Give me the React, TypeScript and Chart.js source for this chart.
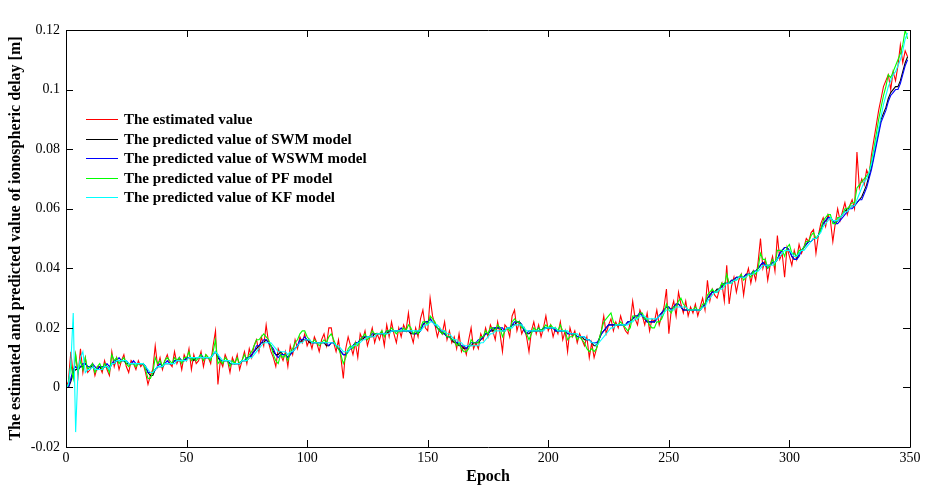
import React, { useEffect, useRef } from "react";
import { Chart, registerables } from "chart.js";

Chart.register(...registerables);

// Epoch index (x values)
const epochs: number[] = Array.from({ length: 350 }, (_, i) => i);

// The estimated value [m]
const estimated: number[] = [
  0, .002, .012, .004, .011, .004, .013, .005, .010, .005,
  .006, .008, .004, .007, .007, .005, .009, .006, .004, .012,
  .007, .010, .006, .009, .011, .007, .005, .009, .008, .006,
  .009, .007, .008, .005, .001, .004, .006, .014, .007, .010,
  .006, .009, .011, .008, .007, .012, .008, .010, .006, .011,
  .009, .013, .006, .011, .008, .009, .012, .007, .011, .010,
  .008, .014, .019, .001, .009, .007, .011, .009, .005, .010,
  .008, .011, .006, .009, .012, .008, .013, .010, .014, .016,
  .012, .017, .014, .021, .015, .012, .010, .007, .013, .011,
  .009, .012, .007, .014, .011, .016, .013, .017, .015, .018,
  .014, .016, .013, .017, .015, .012, .016, .018, .014, .020,
  .020, .015, .012, .016, .010, .003, .013, .017, .014, .011,
  .015, .010, .018, .016, .019, .014, .017, .020, .015, .018,
  .016, .019, .014, .021, .017, .022, .018, .015, .020, .017,
  .021, .019, .025, .018, .015, .020, .017, .023, .026, .020,
  .019, .030, .024, .021, .017, .020, .018, .022, .016, .019,
  .015, .017, .013, .018, .012, .014, .011, .016, .020, .013,
  .015, .013, .018, .016, .020, .017, .021, .019, .016, .022,
  .018, .012, .021, .020, .017, .024, .026, .019, .022, .018,
  .020, .017, .012, .019, .022, .018, .021, .017, .020, .024,
  .019, .021, .017, .020, .018, .022, .016, .019, .012, .020,
  .017, .019, .015, .018, .016, .014, .017, .010, .015, .010,
  .013, .016, .019, .024, .018, .021, .023, .019, .022, .020,
  .024, .021, .019, .018, .022, .029, .023, .021, .026, .024,
  .021, .025, .019, .023, .022, .026, .021, .024, .027, .033,
  .018, .026, .029, .024, .032, .028, .025, .029, .024, .027,
  .025, .028, .024, .027, .030, .026, .036, .029, .033, .031,
  .030, .033, .035, .029, .041, .028, .034, .037, .032, .036,
  .038, .031, .037, .040, .035, .039, .036, .042, .050, .040,
  .043, .036, .041, .044, .039, .051, .043, .045, .037, .047,
  .044, .041, .046, .043, .048, .045, .047, .050, .049, .052,
  .053, .045, .051, .055, .057, .054, .058, .056, .049, .055,
  .060, .056, .059, .062, .058, .061, .063, .060, .079, .067,
  .070, .068, .073, .071, .078, .083, .088, .093, .097, .101,
  .103, .105, .100, .106, .103, .108, .115, .109, .113, .111,
];

// The predicted value of SWM model [m]
const swm: number[] = [
  0, 0, .002, .005, .006, .006, .007, .007, .008, .007,
  .007, .007, .006, .006, .007, .006, .007, .007, .006, .008,
  .008, .009, .009, .009, .009, .008, .008, .008, .008, .008,
  .008, .008, .008, .007, .005, .004, .004, .006, .007, .007,
  .007, .008, .008, .008, .008, .009, .009, .009, .009, .009,
  .010, .010, .010, .009, .010, .010, .010, .010, .010, .010,
  .010, .011, .012, .010, .009, .009, .009, .009, .008, .008,
  .008, .008, .008, .009, .009, .009, .010, .011, .012, .013,
  .014, .015, .015, .016, .015, .014, .012, .011, .011, .012,
  .011, .011, .010, .011, .012, .013, .014, .015, .016, .016,
  .016, .015, .015, .015, .015, .015, .015, .015, .014, .014,
  .015, .015, .014, .013, .012, .011, .011, .012, .013, .014,
  .015, .015, .016, .016, .017, .017, .017, .017, .018, .018,
  .018, .018, .018, .018, .019, .019, .019, .019, .019, .019,
  .019, .019, .019, .018, .018, .018, .018, .019, .021, .022,
  .022, .023, .022, .021, .020, .019, .018, .018, .017, .017,
  .016, .015, .015, .014, .014, .013, .013, .014, .014, .015,
  .015, .015, .016, .017, .018, .018, .019, .019, .020, .020,
  .020, .019, .019, .020, .020, .021, .021, .022, .022, .021,
  .019, .018, .018, .019, .019, .019, .019, .019, .020, .020,
  .020, .020, .020, .019, .019, .019, .019, .019, .018, .018,
  .018, .018, .017, .017, .017, .016, .016, .016, .015, .014,
  .014, .016, .018, .019, .020, .021, .021, .021, .021, .021,
  .021, .021, .021, .022, .022, .023, .024, .024, .025, .024,
  .023, .022, .022, .022, .022, .023, .024, .025, .026, .027,
  .027, .026, .027, .028, .028, .027, .026, .026, .026, .026,
  .026, .026, .026, .026, .027, .028, .030, .031, .032, .032,
  .033, .033, .034, .035, .035, .035, .036, .036, .037, .037,
  .037, .037, .038, .038, .038, .039, .039, .040, .041, .042,
  .041, .041, .041, .042, .042, .043, .045, .046, .047, .047,
  .046, .044, .043, .043, .045, .046, .047, .048, .049, .049,
  .050, .050, .051, .053, .055, .056, .057, .057, .056, .055,
  .056, .057, .058, .059, .060, .060, .061, .061, .062, .063,
  .064, .066, .068, .071, .074, .078, .082, .086, .090, .092,
  .094, .097, .099, .100, .101, .101, .103, .106, .109, .111,
];

// The predicted value of WSWM model [m]
const wswm: number[] = [
  0, 0, .003, .006, .007, .006, .007, .008, .008, .007,
  .007, .008, .007, .006, .007, .007, .007, .008, .007, .008,
  .009, .009, .010, .009, .009, .009, .008, .008, .009, .008,
  .008, .008, .008, .007, .005, .005, .005, .006, .007, .008,
  .007, .008, .009, .008, .008, .009, .009, .010, .009, .009,
  .010, .010, .010, .010, .010, .010, .011, .010, .010, .010,
  .010, .011, .012, .011, .009, .009, .009, .009, .008, .008,
  .008, .008, .008, .009, .009, .010, .010, .011, .012, .014,
  .014, .015, .016, .016, .015, .014, .013, .011, .010, .011,
  .011, .011, .010, .011, .012, .013, .014, .016, .016, .017,
  .016, .016, .015, .015, .015, .015, .015, .015, .015, .014,
  .015, .015, .014, .013, .012, .011, .011, .012, .013, .014,
  .015, .015, .016, .017, .017, .017, .017, .018, .018, .018,
  .018, .018, .018, .019, .019, .019, .019, .019, .019, .020,
  .019, .019, .019, .019, .018, .018, .019, .019, .021, .022,
  .022, .023, .022, .021, .020, .019, .019, .018, .017, .017,
  .016, .016, .015, .015, .014, .014, .013, .014, .015, .015,
  .015, .016, .016, .017, .018, .018, .019, .020, .020, .020,
  .020, .020, .019, .020, .020, .021, .022, .022, .022, .021,
  .019, .018, .019, .019, .019, .019, .020, .019, .020, .020,
  .020, .020, .020, .019, .019, .019, .019, .019, .018, .018,
  .018, .018, .017, .017, .017, .017, .016, .016, .015, .015,
  .015, .016, .018, .019, .020, .021, .021, .021, .021, .021,
  .021, .021, .021, .022, .022, .023, .024, .024, .025, .024,
  .023, .022, .022, .022, .022, .023, .024, .025, .026, .027,
  .027, .026, .027, .028, .028, .027, .026, .026, .026, .026,
  .026, .026, .026, .026, .027, .028, .030, .031, .032, .032,
  .032, .033, .034, .035, .035, .035, .036, .036, .037, .037,
  .037, .037, .038, .038, .038, .039, .039, .040, .041, .042,
  .041, .040, .041, .042, .042, .043, .045, .046, .047, .047,
  .046, .044, .043, .043, .044, .046, .047, .048, .049, .049,
  .050, .050, .051, .053, .055, .056, .057, .057, .056, .055,
  .055, .056, .057, .058, .059, .060, .060, .061, .062, .063,
  .063, .065, .067, .070, .073, .077, .081, .085, .089, .091,
  .093, .096, .098, .099, .100, .100, .102, .105, .108, .110,
];

// The predicted value of PF model [m]
const pf: number[] = [
  0, .001, .008, .003, .011, .005, .009, .006, .010, .006,
  .007, .008, .005, .007, .008, .006, .008, .007, .005, .011,
  .009, .010, .008, .009, .010, .008, .007, .008, .008, .007,
  .008, .008, .008, .006, .003, .003, .005, .010, .008, .009,
  .007, .009, .010, .009, .008, .010, .009, .010, .008, .010,
  .010, .012, .009, .010, .009, .010, .011, .009, .011, .010,
  .009, .012, .016, .008, .009, .008, .010, .009, .007, .009,
  .008, .010, .008, .009, .011, .009, .011, .012, .014, .016,
  .016, .017, .018, .017, .016, .014, .011, .009, .008, .011,
  .010, .011, .009, .012, .013, .015, .016, .018, .019, .019,
  .017, .016, .015, .016, .015, .014, .015, .016, .015, .017,
  .018, .016, .014, .013, .011, .008, .010, .013, .014, .013,
  .015, .014, .016, .017, .018, .016, .017, .019, .018, .018,
  .018, .019, .017, .019, .019, .020, .019, .018, .019, .019,
  .020, .019, .021, .020, .018, .019, .018, .020, .022, .022,
  .021, .024, .023, .022, .020, .019, .018, .019, .017, .017,
  .016, .016, .014, .015, .013, .012, .012, .013, .016, .015,
  .015, .015, .017, .017, .019, .018, .020, .020, .019, .021,
  .020, .017, .019, .020, .019, .022, .023, .022, .022, .020,
  .020, .018, .016, .018, .020, .019, .020, .019, .020, .021,
  .020, .021, .020, .020, .019, .021, .019, .019, .016, .017,
  .017, .018, .016, .017, .016, .015, .013, .012, .013, .012,
  .013, .016, .019, .022, .023, .024, .025, .022, .021, .021,
  .022, .021, .020, .019, .020, .024, .024, .023, .025, .025,
  .023, .023, .021, .020, .020, .022, .022, .023, .025, .028,
  .026, .025, .027, .027, .029, .030, .028, .027, .026, .026,
  .026, .027, .026, .026, .028, .028, .031, .032, .033, .032,
  .032, .033, .035, .034, .038, .035, .035, .036, .036, .037,
  .038, .036, .037, .038, .037, .039, .038, .040, .045, .043,
  .043, .040, .041, .043, .041, .046, .046, .046, .044, .047,
  .048, .045, .045, .044, .046, .046, .047, .049, .049, .051,
  .052, .050, .051, .053, .056, .057, .058, .058, .055, .055,
  .057, .057, .058, .060, .060, .061, .062, .062, .067, .068,
  .069, .070, .071, .072, .076, .080, .085, .090, .094, .098,
  .101, .105, .104, .106, .108, .110, .112, .115, .120, .117,
];

// The predicted value of KF model [m]
const kf: number[] = [
  0, .001, .008, .025, -.015, .006, .010, .012, .005, .006,
  .006, .007, .006, .006, .006, .006, .007, .007, .006, .008,
  .008, .009, .009, .009, .009, .009, .008, .008, .008, .008,
  .008, .008, .008, .007, .006, .005, .005, .006, .007, .007,
  .007, .008, .008, .008, .008, .008, .009, .009, .009, .009,
  .009, .010, .010, .010, .010, .010, .010, .010, .010, .010,
  .010, .011, .012, .011, .010, .009, .009, .009, .009, .008,
  .008, .008, .008, .009, .009, .009, .010, .010, .011, .012,
  .013, .014, .015, .015, .015, .015, .014, .013, .012, .012,
  .012, .012, .011, .012, .012, .013, .014, .015, .015, .016,
  .016, .016, .015, .015, .015, .015, .015, .015, .015, .015,
  .015, .015, .014, .014, .013, .012, .012, .012, .013, .014,
  .014, .015, .015, .016, .016, .017, .017, .017, .017, .018,
  .018, .018, .018, .018, .018, .019, .019, .019, .019, .019,
  .019, .019, .019, .019, .019, .019, .019, .019, .020, .021,
  .021, .022, .022, .021, .021, .020, .019, .019, .018, .018,
  .017, .016, .016, .015, .015, .014, .014, .014, .014, .014,
  .014, .014, .015, .015, .016, .017, .018, .018, .019, .019,
  .019, .019, .019, .020, .020, .020, .021, .021, .021, .021,
  .020, .019, .019, .019, .019, .019, .019, .019, .019, .020,
  .020, .020, .020, .020, .019, .019, .019, .019, .019, .018,
  .018, .018, .018, .017, .017, .017, .016, .016, .015, .015,
  .014, .015, .016, .017, .018, .019, .020, .020, .021, .021,
  .021, .021, .021, .021, .022, .022, .023, .023, .024, .024,
  .024, .023, .023, .023, .023, .023, .024, .024, .025, .026,
  .026, .026, .026, .027, .027, .027, .027, .027, .026, .026,
  .026, .026, .026, .026, .027, .027, .029, .030, .031, .032,
  .032, .033, .033, .034, .035, .035, .035, .036, .036, .037,
  .037, .037, .037, .038, .038, .038, .039, .039, .040, .041,
  .041, .041, .041, .041, .042, .043, .044, .045, .046, .046,
  .046, .045, .044, .044, .045, .046, .046, .047, .048, .049,
  .050, .050, .051, .052, .054, .055, .056, .057, .056, .056,
  .056, .057, .058, .059, .059, .060, .061, .061, .063, .065,
  .067, .069, .070, .072, .075, .079, .083, .087, .091, .095,
  .098, .101, .103, .105, .106, .108, .110, .113, .117, .119,
];

const seriesNames: string[] = [
  "The estimated value",
  "The predicted value of SWM model",
  "The predicted value of WSWM model",
  "The predicted value of PF model",
  "The predicted value of KF model",
];
const seriesColors: string[] = ["#ff0000", "#000000", "#0000ff", "#00ff00", "#00ffff"];

const xTickValues: number[] = [0, 50, 100, 150, 200, 250, 300, 350];
const xTickLabels: string[] = ["0", "50", "100", "150", "200", "250", "300", "350"];
const yTickValues: number[] = [-0.02, 0, 0.02, 0.04, 0.06, 0.08, 0.1, 0.12];
const yTickLabels: string[] = ["-0.02", "0", "0.02", "0.04", "0.06", "0.08", "0.1", "0.12"];

const FONT = "'Liberation Serif', 'Times New Roman', serif";

const framePlugin = {
  id: "frameAndLegend",
  afterDatasetsDraw(chart: any) {
    const { ctx, chartArea } = chart;
    const { left, right, top, bottom } = chartArea;
    const xs = chart.scales.x;
    const ys = chart.scales.y;
    ctx.save();
    ctx.strokeStyle = "#000";
    ctx.lineWidth = 1;
    ctx.beginPath();
    ctx.rect(Math.round(left) + 0.5, Math.round(top) + 0.5, Math.round(right - left), Math.round(bottom - top));
    ctx.stroke();
    const tl = 7;
    ctx.beginPath();
    xTickValues.forEach((v) => {
      const px = Math.round(xs.getPixelForValue(v)) + 0.5;
      ctx.moveTo(px, bottom);
      ctx.lineTo(px, bottom - tl);
      ctx.moveTo(px, top);
      ctx.lineTo(px, top + tl);
    });
    yTickValues.forEach((v) => {
      const py = Math.round(ys.getPixelForValue(v)) + 0.5;
      ctx.moveTo(left, py);
      ctx.lineTo(left + tl, py);
      ctx.moveTo(right, py);
      ctx.lineTo(right - tl, py);
    });
    ctx.stroke();

    // legend
    const rowY = [119, 139, 158, 178, 197];
    ctx.font = "bold 15px " + FONT;
    ctx.textBaseline = "middle";
    ctx.textAlign = "left";
    seriesNames.forEach((name, i) => {
      ctx.strokeStyle = seriesColors[i];
      ctx.lineWidth = 1;
      ctx.beginPath();
      ctx.moveTo(86, rowY[i] + 0.5);
      ctx.lineTo(118, rowY[i] + 0.5);
      ctx.stroke();
      ctx.fillStyle = "#000";
      ctx.fillText(name, 124, rowY[i] + 1);
    });
    ctx.restore();
  },
};

export default function App() {
  const ref = useRef<HTMLCanvasElement | null>(null);
  useEffect(() => {
    if (!ref.current) return;
    const allSeries = [estimated, swm, wswm, pf, kf];
    const chart = new Chart(ref.current, {
      type: "line",
      data: {
        labels: epochs,
        datasets: allSeries.map((d, i) => ({
          label: seriesNames[i],
          data: d,
          borderColor: seriesColors[i],
          backgroundColor: seriesColors[i],
          borderWidth: 1.1,
          pointRadius: 0,
          fill: false,
          tension: 0,
          order: 4 - i,
        })),
      },
      options: {
        animation: false,
        responsive: false,
        maintainAspectRatio: false,
        events: [],
        layout: { padding: { left: 0, right: 16, top: 30, bottom: 0 } },
        plugins: { legend: { display: false }, tooltip: { enabled: false }, title: { display: false } },
        scales: {
          x: {
            type: "linear",
            min: 0,
            max: 350,
            afterBuildTicks: (s: any) => {
              s.ticks = xTickValues.map((v) => ({ value: v }));
            },
            afterFit: (s: any) => {
              s.height = 41;
            },
            ticks: {
              autoSkip: false,
              maxRotation: 0,
              padding: 3,
              color: "#000",
              font: { family: FONT, size: 14 },
              callback: (v: any) => xTickLabels[xTickValues.indexOf(Number(v))],
            },
            grid: { display: false, drawTicks: false },
            border: { display: false },
            title: {
              display: true,
              text: "Epoch",
              color: "#000",
              font: { family: FONT, size: 16, weight: "bold" },
              padding: { top: 0, bottom: 2 },
            },
          },
          y: {
            type: "linear",
            min: -0.02,
            max: 0.12,
            afterBuildTicks: (s: any) => {
              s.ticks = yTickValues.map((v) => ({ value: v }));
            },
            afterFit: (s: any) => {
              s.width = 66;
            },
            ticks: {
              autoSkip: false,
              padding: 6,
              color: "#000",
              font: { family: FONT, size: 14 },
              callback: (v: any) => {
                const idx = yTickValues.findIndex((t) => Math.abs(t - Number(v)) < 1e-9);
                return idx >= 0 ? yTickLabels[idx] : "";
              },
            },
            grid: { display: false, drawTicks: false },
            border: { display: false },
            title: {
              display: true,
              text: "The estimated and predicted value of ionospheric delay [m]",
              color: "#000",
              font: { family: FONT, size: 16, weight: "bold" },
              padding: { top: 6, bottom: 0 },
            },
          },
        },
      },
      plugins: [framePlugin],
    });
    return () => chart.destroy();
  }, []);
  return (
    <div style={{ position: "fixed", left: 0, top: 0, width: 926, height: 488, background: "#fff" }}>
      <canvas ref={ref} width={926} height={488} style={{ width: 926, height: 488 }} />
    </div>
  );
}
